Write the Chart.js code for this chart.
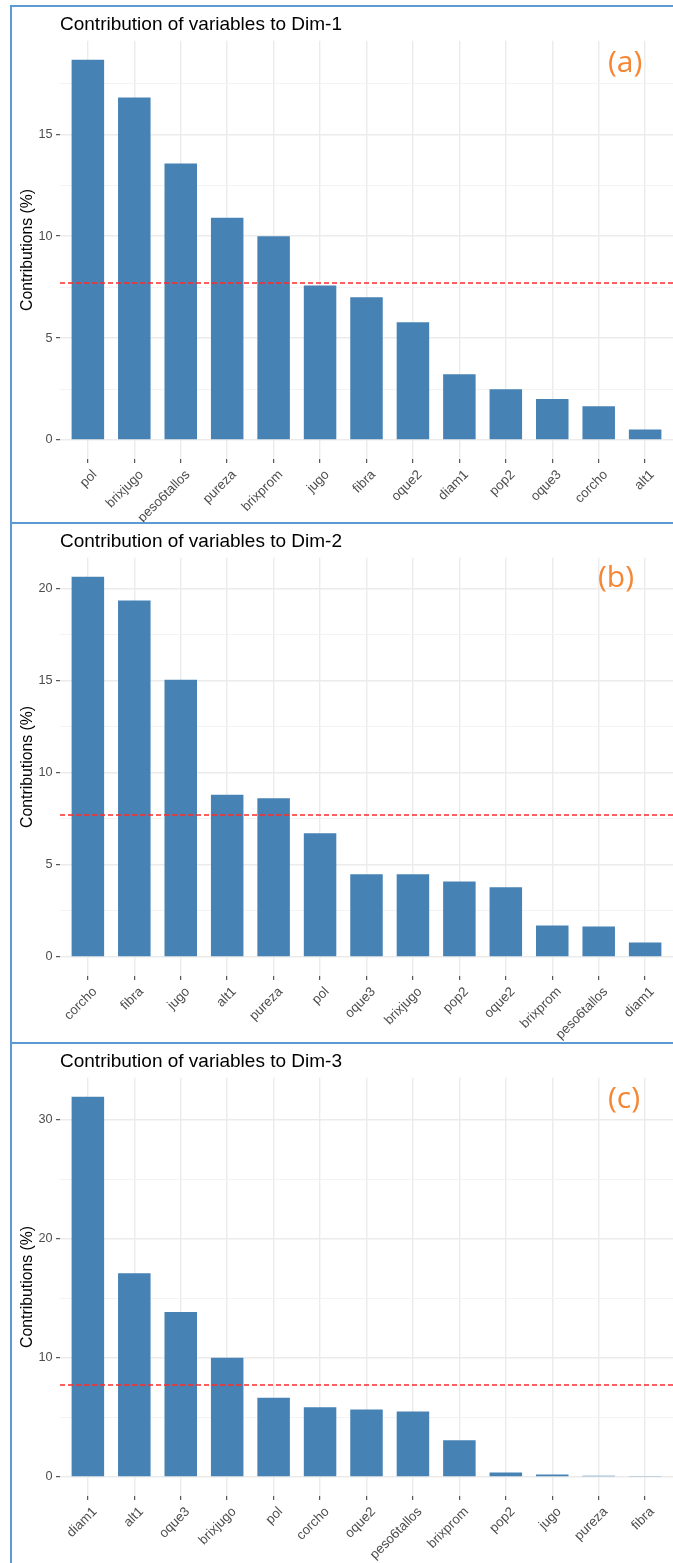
<!DOCTYPE html>
<html><head><meta charset="utf-8">
<script src="https://cdn.jsdelivr.net/npm/chart.js@4.4.1/dist/chart.umd.min.js"></script>
<style>
html,body{margin:0;padding:0;background:#fff;}
#page{position:relative;width:673px;height:1563px;overflow:hidden;background:#fff;}
canvas{position:absolute;left:0;}
.bl{position:absolute;background:#5B9BD5;}
.tag{position:absolute;font-family:'Open Sans',Lato,sans-serif;font-size:30px;line-height:30px;color:#F58634;}
</style></head><body>
<div id="page">
<canvas id="c1" width="673" height="517" style="top:6px"></canvas>
<canvas id="c2" width="673" height="520" style="top:523px"></canvas>
<canvas id="c3" width="673" height="520" style="top:1043px"></canvas>
<div class="bl" style="left:10px;top:5px;width:663px;height:2px"></div>
<div class="bl" style="left:10px;top:5px;width:2px;height:1558px"></div>
<div class="bl" style="left:10px;top:522px;width:663px;height:2px"></div>
<div class="bl" style="left:10px;top:1042px;width:663px;height:2px"></div>
<div class="tag" style="left:608px;top:46px">(a)</div>
<div class="tag" style="left:598px;top:561px">(b)</div>
<div class="tag" style="left:608px;top:1082px">(c)</div>
</div>
<script>
// ---- data ----
const dim1Vars = ['pol','brixjugo','peso6tallos','pureza','brixprom','jugo','fibra','oque2','diam1','pop2','oque3','corcho','alt1'];
const dim1Contrib = [18.65, 16.8, 13.56, 10.9, 10.0, 7.58, 7.0, 5.78, 3.22, 2.49, 2.01, 1.65, 0.52];

const dim2Vars = ['corcho','fibra','jugo','alt1','pureza','pol','oque3','brixjugo','pop2','oque2','brixprom','peso6tallos','diam1'];
const dim2Contrib = [20.63, 19.35, 15.05, 8.8, 8.61, 6.71, 4.49, 4.49, 4.09, 3.79, 1.71, 1.66, 0.79];

const dim3Vars = ['diam1','alt1','oque3','brixjugo','pol','corcho','oque2','peso6tallos','brixprom','pop2','jugo','pureza','fibra'];
const dim3Contrib = [31.9, 17.1, 13.85, 10.0, 6.65, 5.86, 5.67, 5.5, 3.08, 0.38, 0.2, 0.1, 0.09];

const expectedContrib = 7.69;

const yMajor1 = [0, 5, 10, 15];      const yMinor1 = [2.5, 7.5, 12.5, 17.5];
const yMajor2 = [0, 5, 10, 15, 20];  const yMinor2 = [2.5, 7.5, 12.5, 17.5];
const yMajor3 = [0, 10, 20, 30];     const yMinor3 = [5, 15, 25];

const titles = ['Contribution of variables to Dim-1','Contribution of variables to Dim-2','Contribution of variables to Dim-3'];
const yTitle = 'Contributions (%)';

// ---- drawing ----
const FONT = "'Liberation Sans', Arial, sans-serif";
const refLine = {
  id: 'refLine',
  afterDatasetsDraw(chart) {
    const {ctx, chartArea: a, scales: {y}} = chart;
    const py = Math.round(y.getPixelForValue(expectedContrib));
    ctx.save();
    ctx.strokeStyle = '#FF2A2A';
    ctx.lineWidth = 1.6;
    ctx.setLineDash([5, 3]);
    ctx.beginPath();
    ctx.moveTo(a.left, py);
    ctx.lineTo(a.right, py);
    ctx.stroke();
    ctx.restore();
  }
};

function makeChart(id, title, vars, vals, majors, minors) {
  const canvas = document.getElementById(id);
  const H = canvas.height;
  const ymax = Math.max(...vals);
  const allTicks = majors.concat(minors).sort((a, b) => a - b);
  const isMajor = c => c && c.tick && majors.includes(c.tick.value);
  return new Chart(canvas, {
    type: 'bar',
    data: { datasets: [{
      data: vals.map((v, i) => ({x: i, y: v})),
      backgroundColor: '#4682B4', borderWidth: 0,
      categoryPercentage: 1, barPercentage: 0.7
    }]},
    options: {
      responsive: false, animation: false, devicePixelRatio: 1,
      layout: {padding: {left: 0, right: 0, top: 0, bottom: 0}},
      plugins: {
        legend: {display: false}, tooltip: {enabled: false},
        title: {display: true, text: title, align: 'start', fullSize: false, color: '#000',
          font: {family: FONT, size: 19, weight: 'normal', lineHeight: 1.2},
          padding: {top: 7, bottom: 5}}
      },
      scales: {
        x: {
          type: 'linear', min: -0.6, max: vars.length - 0.4, offset: false,
          afterBuildTicks: s => { s.ticks = vars.map((_, i) => ({value: i})); },
          afterFit: s => { s.height = H - 35 - 418; },
          grid: {color: '#EBEBEB', lineWidth: 1.4, drawTicks: true, tickLength: 4,
            tickColor: '#333333', tickWidth: 1, offset: false},
          border: {display: false},
          ticks: {autoSkip: false, maxRotation: 45, minRotation: 45, padding: 4, labelOffset: 7,
            color: '#4D4D4D', font: {family: FONT, size: 13.3},
            callback: v => vars[v]}
        },
        y: {
          min: -0.05 * ymax, max: 1.05 * ymax,
          afterBuildTicks: s => { s.ticks = allTicks.map(v => ({value: v})); },
          afterFit: s => { s.width = 60; },
          grid: {
            color: c => isMajor(c) ? '#EBEBEB' : '#F2F2F2',
            lineWidth: c => isMajor(c) ? 1.4 : 0.9,
            tickLength: 4,
            tickColor: c => isMajor(c) ? '#333333' : 'rgba(0,0,0,0)',
            tickWidth: 1
          },
          border: {display: false},
          ticks: {padding: 3.5, color: '#4D4D4D', font: {family: FONT, size: 12.7}, autoSkip: false,
            callback: v => majors.includes(v) ? String(v) : ''},
          title: {display: true, text: yTitle, color: '#000',
            font: {family: FONT, size: 15.8}, padding: {top: 18.5, bottom: 0}}
        }
      }
    },
    plugins: [refLine]
  });
}

makeChart('c1', titles[0], dim1Vars, dim1Contrib, yMajor1, yMinor1);
makeChart('c2', titles[1], dim2Vars, dim2Contrib, yMajor2, yMinor2);
makeChart('c3', titles[2], dim3Vars, dim3Contrib, yMajor3, yMinor3);
</script>
</body></html>
